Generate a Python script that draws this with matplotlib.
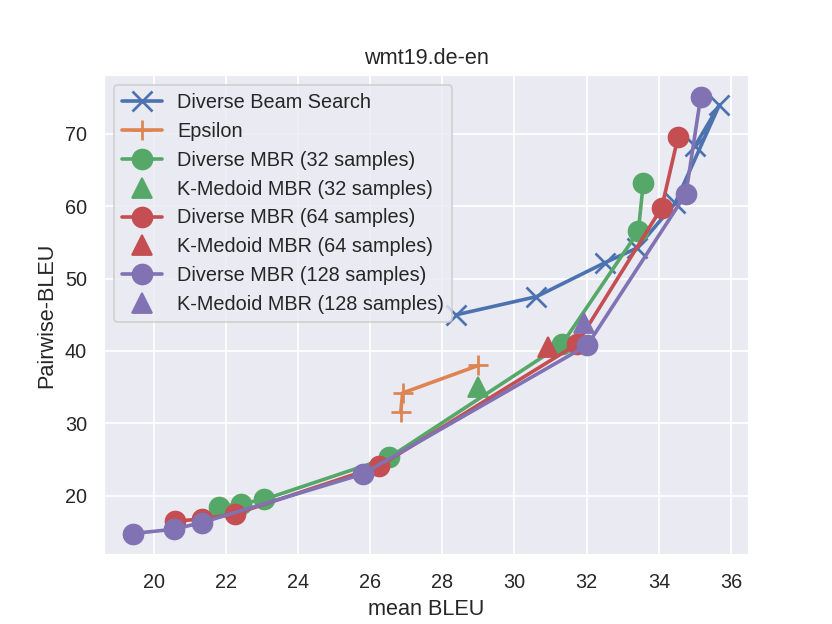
import matplotlib
matplotlib.use("Agg")
import matplotlib.pyplot as plt
import seaborn as sns

sns.set_theme(style="darkgrid")
plt.rcParams['font.family'] = ['Liberation Sans', 'DejaVu Sans']

title = "wmt19.de-en"

dbs_x = [28.39, 30.61, 32.51, 33.39, 34.45, 35.68, 35.0]
dbs_y = [45.0, 47.5, 52.2, 54.2, 60.4, 74.0, 68.3]

eps_x = [26.85, 26.9, 29.0]
eps_y = [31.6, 34.2, 38.0]

dmbr32_x = [21.82, 22.41, 23.06, 26.53, 31.31, 33.43, 33.57]
dmbr32_y = [18.5, 18.9, 19.5, 25.3, 40.9, 56.5, 63.2]

dmbr64_x = [20.59, 21.33, 22.26, 26.25, 31.72, 34.08, 34.53]
dmbr64_y = [16.5, 16.8, 17.5, 24.1, 40.9, 59.8, 69.5]

dmbr128_x = [19.44, 20.57, 21.33, 25.79, 32.02, 34.75, 35.16]
dmbr128_y = [14.8, 15.4, 16.3, 23.0, 40.8, 61.7, 75.1]

km32_x, km32_y = [28.98], [35.0]
km64_x, km64_y = [30.92], [40.6]
km128_x, km128_y = [31.94], [43.9]

pal = sns.color_palette("deep")
fig, ax = plt.subplots(figsize=(6.4, 4.8), dpi=130)
ms = 11
ax.plot(dbs_x, dbs_y, marker='x', color=pal[0], ms=ms, mew=1.5, lw=2, label="Diverse Beam Search")
ax.plot(eps_x, eps_y, marker='+', color=pal[1], ms=ms, mew=1.5, lw=2, label="Epsilon")
ax.plot(dmbr32_x, dmbr32_y, marker='o', color=pal[2], ms=ms, lw=2, label="Diverse MBR (32 samples)")
ax.plot(km32_x, km32_y, marker='^', color=pal[2], ms=ms, ls='none', label="K-Medoid MBR (32 samples)")
ax.plot(dmbr64_x, dmbr64_y, marker='o', color=pal[3], ms=ms, lw=2, label="Diverse MBR (64 samples)")
ax.plot(km64_x, km64_y, marker='^', color=pal[3], ms=ms, ls='none', label="K-Medoid MBR (64 samples)")
ax.plot(dmbr128_x, dmbr128_y, marker='o', color=pal[4], ms=ms, lw=2, label="Diverse MBR (128 samples)")
ax.plot(km128_x, km128_y, marker='^', color=pal[4], ms=ms, ls='none', label="K-Medoid MBR (128 samples)")

ax.set_title(title)
ax.set_xlabel("mean BLEU")
ax.set_ylabel("Pairwise-BLEU")
ax.set_xticks([20, 22, 24, 26, 28, 30, 32, 34, 36])
ax.legend(loc="upper left")
fig.savefig("out.png")
